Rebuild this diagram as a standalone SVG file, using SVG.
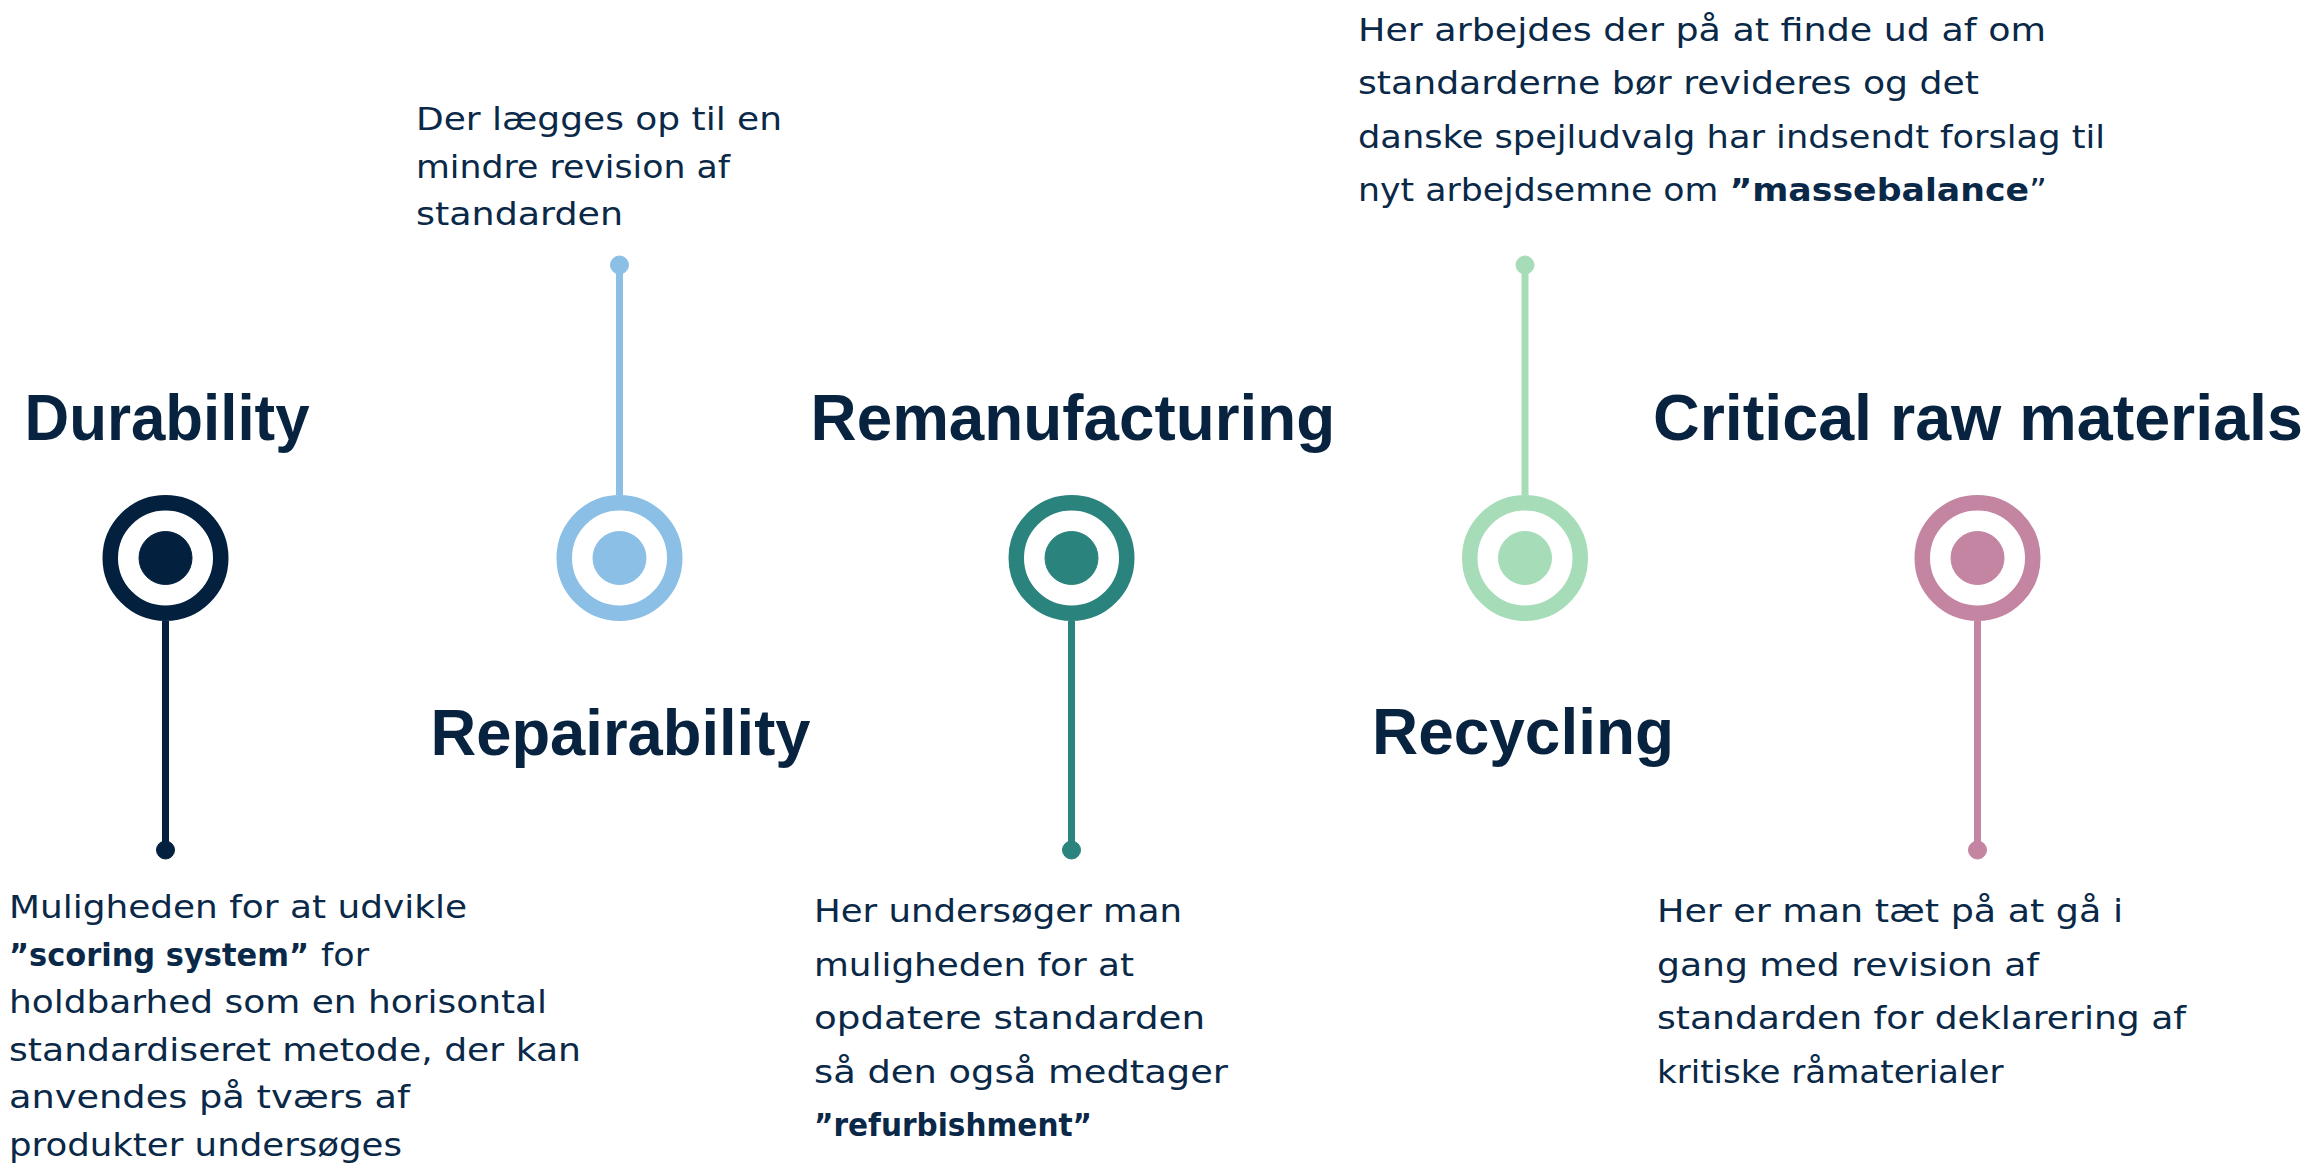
<svg xmlns="http://www.w3.org/2000/svg" width="2311" height="1163" viewBox="0 0 2311 1163">
<style>
.title{font-family:"Liberation Sans",Arial,sans-serif;font-weight:bold;font-size:64px;fill:#07233F}
.body{font-family:"DejaVu Sans","Liberation Sans",sans-serif;font-size:32px;fill:#0A2847}
.b{font-weight:bold}
.ring{fill:#fff;stroke-width:15.5}
.stem{stroke-width:7;fill:none}
.navy{stroke:#03213F;fill:#03213F}
.blue{stroke:#8BBFE6;fill:#8BBFE6}
.teal{stroke:#2A837D;fill:#2A837D}
.green{stroke:#A6DDB8;fill:#A6DDB8}
.pink{stroke:#C385A2;fill:#C385A2}
</style>
<rect width="2311" height="1163" fill="#fff"/>
<g id="connectors">
  <line class="stem navy" x1="165.5" y1="621" x2="165.5" y2="850"/>
  <circle class="navy" cx="165.5" cy="850" r="9"/>
  <line class="stem blue" x1="619.5" y1="265" x2="619.5" y2="495"/>
  <circle class="blue" cx="619.5" cy="265" r="9"/>
  <line class="stem teal" x1="1071.5" y1="621" x2="1071.5" y2="850"/>
  <circle class="teal" cx="1071.5" cy="850" r="9"/>
  <line class="stem green" x1="1525" y1="265" x2="1525" y2="495"/>
  <circle class="green" cx="1525" cy="265" r="9"/>
  <line class="stem pink" x1="1977.5" y1="621" x2="1977.5" y2="850"/>
  <circle class="pink" cx="1977.5" cy="850" r="9"/>
</g>
<g id="durability">
  <circle class="ring navy" cx="165.5" cy="558" r="55.25" style="fill:#fff"/>
  <circle class="navy" cx="165.5" cy="558" r="26.5"/>
  <text class="title" x="24.5" y="439.5" textLength="285" lengthAdjust="spacingAndGlyphs">Durability</text>
  <text class="body" x="9" y="918" textLength="458" lengthAdjust="spacingAndGlyphs">Muligheden for at udvikle</text>
  <text class="body b" x="9" y="965.5" textLength="300" lengthAdjust="spacingAndGlyphs">”scoring system”</text>
  <text class="body" x="321" y="965.5" textLength="48" lengthAdjust="spacingAndGlyphs">for</text>
  <text class="body" x="9" y="1013" textLength="538" lengthAdjust="spacingAndGlyphs">holdbarhed som en horisontal</text>
  <text class="body" x="9" y="1060.5" textLength="572" lengthAdjust="spacingAndGlyphs">standardiseret metode, der kan</text>
  <text class="body" x="9" y="1108" textLength="401" lengthAdjust="spacingAndGlyphs">anvendes på tværs af</text>
  <text class="body" x="9" y="1155.5" textLength="393" lengthAdjust="spacingAndGlyphs">produkter undersøges</text>
</g>
<g id="repairability">
  <circle class="ring blue" cx="619.5" cy="558" r="55.25" style="fill:#fff"/>
  <circle class="blue" cx="619.5" cy="558" r="26.5"/>
  <text class="title" x="430.5" y="755" textLength="380" lengthAdjust="spacingAndGlyphs">Repairability</text>
  <text class="body" x="416" y="130" textLength="366" lengthAdjust="spacingAndGlyphs">Der lægges op til en</text>
  <text class="body" x="416" y="177.5" textLength="314" lengthAdjust="spacingAndGlyphs">mindre revision af</text>
  <text class="body" x="416" y="225" textLength="207" lengthAdjust="spacingAndGlyphs">standarden</text>
</g>
<g id="remanufacturing">
  <circle class="ring teal" cx="1071.5" cy="558" r="55.25" style="fill:#fff"/>
  <circle class="teal" cx="1071.5" cy="558" r="26.5"/>
  <text class="title" x="810.6" y="439.5" textLength="524.5" lengthAdjust="spacingAndGlyphs">Remanufacturing</text>
  <text class="body" x="814" y="922" textLength="368" lengthAdjust="spacingAndGlyphs">Her undersøger man</text>
  <text class="body" x="814" y="975.5" textLength="320" lengthAdjust="spacingAndGlyphs">muligheden for at</text>
  <text class="body" x="814" y="1029" textLength="391" lengthAdjust="spacingAndGlyphs">opdatere standarden</text>
  <text class="body" x="814" y="1082.5" textLength="414" lengthAdjust="spacingAndGlyphs">så den også medtager</text>
  <text class="body b" x="814" y="1136" textLength="278" lengthAdjust="spacingAndGlyphs">”refurbishment”</text>
</g>
<g id="recycling">
  <circle class="ring green" cx="1525" cy="558" r="55.25" style="fill:#fff"/>
  <circle class="green" cx="1525" cy="558" r="26.5"/>
  <text class="title" x="1372" y="754" textLength="302" lengthAdjust="spacingAndGlyphs">Recycling</text>
  <text class="body" x="1358" y="40.7" textLength="688" lengthAdjust="spacingAndGlyphs">Her arbejdes der på at finde ud af om</text>
  <text class="body" x="1358" y="94.3" textLength="621" lengthAdjust="spacingAndGlyphs">standarderne bør revideres og det</text>
  <text class="body" x="1358" y="147.7" textLength="747" lengthAdjust="spacingAndGlyphs">danske spejludvalg har indsendt forslag til</text>
  <text class="body" x="1358" y="201" textLength="689" lengthAdjust="spacingAndGlyphs">nyt arbejdsemne om <tspan class="b">”massebalance</tspan>”</text>
</g>
<g id="critical-raw-materials">
  <circle class="ring pink" cx="1977.5" cy="558" r="55.25" style="fill:#fff"/>
  <circle class="pink" cx="1977.5" cy="558" r="26.5"/>
  <text class="title" x="1653" y="439.7" textLength="650" lengthAdjust="spacingAndGlyphs">Critical raw materials</text>
  <text class="body" x="1657" y="922" textLength="466" lengthAdjust="spacingAndGlyphs">Her er man tæt på at gå i</text>
  <text class="body" x="1657" y="975.5" textLength="382" lengthAdjust="spacingAndGlyphs">gang med revision af</text>
  <text class="body" x="1657" y="1029" textLength="529" lengthAdjust="spacingAndGlyphs">standarden for deklarering af</text>
  <text class="body" x="1657" y="1082.5" textLength="346.5" lengthAdjust="spacingAndGlyphs">kritiske råmaterialer</text>
</g>
</svg>
